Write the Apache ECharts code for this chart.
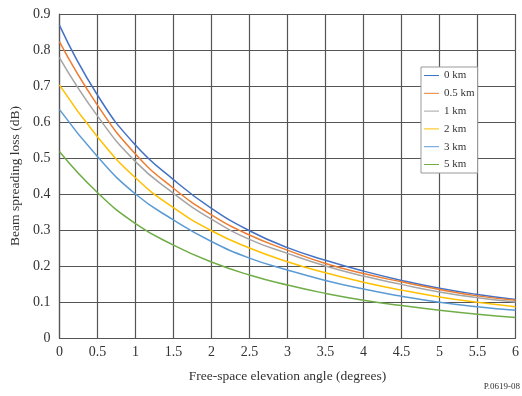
<!DOCTYPE html>
<html><head><meta charset="utf-8">
<script src="https://cdn.jsdelivr.net/npm/echarts@6/dist/echarts.min.js"></script>
<style>html,body{margin:0;padding:0;background:#fff}#c{width:522px;height:396px}</style>
</head><body><div id="c"></div>
<script>
const angles = [0, 0.5, 1, 1.5, 2, 2.5, 3, 3.5, 4, 4.5, 5, 5.5, 6];
const km0  = [0.869, 0.675, 0.536, 0.440, 0.360, 0.298, 0.251, 0.216, 0.186, 0.160, 0.138, 0.121, 0.107];
const km05 = [0.823, 0.647, 0.511, 0.416, 0.342, 0.286, 0.244, 0.207, 0.179, 0.156, 0.135, 0.117, 0.105];
const km1  = [0.779, 0.617, 0.490, 0.402, 0.330, 0.274, 0.235, 0.200, 0.172, 0.149, 0.128, 0.112, 0.100];
const km2  = [0.703, 0.559, 0.445, 0.362, 0.298, 0.250, 0.212, 0.181, 0.155, 0.133, 0.114, 0.099, 0.087];
const km3  = [0.635, 0.504, 0.400, 0.328, 0.268, 0.222, 0.189, 0.160, 0.136, 0.116, 0.099, 0.087, 0.077];
const km5  = [0.518, 0.404, 0.318, 0.258, 0.211, 0.175, 0.147, 0.124, 0.105, 0.090, 0.077, 0.066, 0.057];
const seriesNames = ['0 km', '0.5 km', '1 km', '2 km', '3 km', '5 km'];
const seriesData = [km0, km05, km1, km2, km3, km5];
const colors = ['#4472C4', '#ED7D31', '#A5A5A5', '#FFC000', '#5B9BD5', '#70AD47'];

const font = 'Liberation Serif';
const chart = echarts.init(document.getElementById('c'), null, {renderer: 'canvas'});
chart.setOption({
  animation: false,
  backgroundColor: '#fff',
  color: colors,
  grid: {left: 59, right: 3, top: 14, bottom: 58, containLabel: false},
  legend: {
    orient: 'vertical', left: 421, top: 67,
    itemWidth: 15, itemHeight: 10, itemGap: 6.8,
    padding: [3, 3, 3, 3],
    backgroundColor: '#fff', borderColor: '#999', borderWidth: 1,
    textStyle: {fontFamily: font, fontSize: 11, color: '#333'},
    icon: 'path://M0,4.5 L15,4.5 L15,5.5 L0,5.5 Z',
    data: seriesNames
  },
  xAxis: {
    type: 'value', min: 0, max: 6, interval: 0.5,
    name: 'Free-space elevation angle (degrees)', nameLocation: 'middle', nameGap: 31,
    nameTextStyle: {fontFamily: font, fontSize: 13.5, color: '#333'},
    axisLine: {show: true, lineStyle: {color: '#555', width: 1.2}},
    axisTick: {show: false},
    axisLabel: {fontFamily: font, fontSize: 14, color: '#333', margin: 7},
    splitLine: {show: true, lineStyle: {color: '#555', width: 1.2}}
  },
  yAxis: {
    type: 'value', min: 0, max: 0.9, interval: 0.1,
    name: 'Beam spreading loss (dB)', nameLocation: 'middle', nameGap: 37,
    nameTextStyle: {fontFamily: font, fontSize: 13.5, color: '#333'},
    axisLine: {show: true, lineStyle: {color: '#555', width: 1.2}},
    axisTick: {show: false},
    axisLabel: {fontFamily: font, fontSize: 14, color: '#333', margin: 9,
      formatter: v => String(Math.round(v * 10) / 10)},
    splitLine: {show: true, lineStyle: {color: '#555', width: 1.2}}
  },
  graphic: [{
    type: 'text', right: 2, top: 382,
    style: {text: 'P.0619-08', fontFamily: font, fontSize: 9, fill: '#333'}
  }],
  series: seriesNames.map((n, i) => ({
    name: n, type: 'line', smooth: true, showSymbol: false,
    lineStyle: {width: 1.5, color: colors[i]},
    data: angles.map((a, j) => [a, seriesData[i][j]])
  }))
});
</script></body></html>
